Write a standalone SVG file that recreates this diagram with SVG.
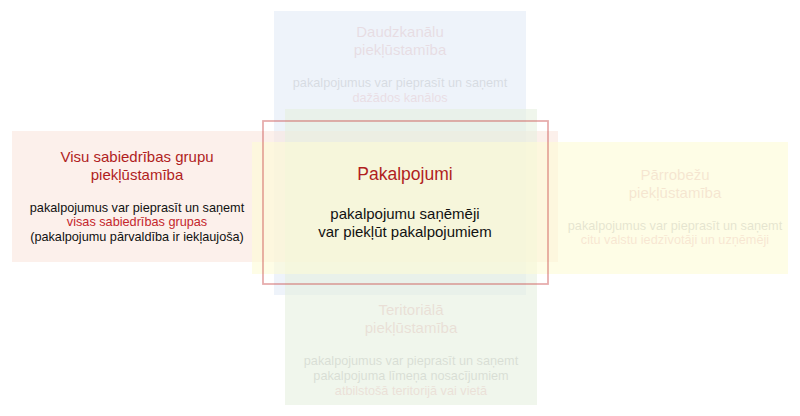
<svg xmlns="http://www.w3.org/2000/svg" width="800" height="416" viewBox="0 0 800 416">
<style>
text{font-family:"Liberation Sans",Arial,sans-serif;text-anchor:middle}
.box{fill-opacity:0.6}
.t{font-size:15px;fill:#b01e1e}
.b{font-size:12.7px;fill:#111}
.h{fill:#c4262b}
.ct{font-size:17.5px;fill:#b01e1e}
.cb{font-size:15px;fill:#111}
.fade{opacity:0.1}
</style>
<rect width="800" height="416" fill="#fff"/>
<g id="node-daudzkanalu">
<rect class="box" x="274" y="11" width="252" height="284" fill="#e3ebf7"/>
<g class="fade">
<text class="t" x="400" y="37">Daudzkanālu</text>
<text class="t" x="400" y="55">piekļūstamība</text>
<text class="b" x="400" y="87">pakalpojumus var pieprasīt un saņemt</text>
<text class="b h" x="400" y="102">dažādos kanālos</text>
</g>
</g>
<g id="node-visu-grupu">
<rect class="box" x="12" y="131" width="546" height="131" fill="#fae6de"/>
<text class="t" x="137" y="162">Visu sabiedrības grupu</text>
<text class="t" x="137" y="180">piekļūstamība</text>
<text class="b" x="137" y="211.5">pakalpojumus var pieprasīt un saņemt</text>
<text class="b h" x="137" y="226">visas sabiedrības grupas</text>
<text class="b" x="137" y="240.5">(pakalpojumu pārvaldība ir iekļaujoša)</text>
</g>
<g id="node-teritoriala">
<rect class="box" x="285" y="109" width="252" height="296" fill="#e6f0df"/>
<g class="fade">
<text class="t" x="411" y="315">Teritoriālā</text>
<text class="t" x="411" y="333">piekļūstamība</text>
<text class="b" x="411" y="365">pakalpojumus var pieprasīt un saņemt</text>
<text class="b" x="411" y="380">pakalpojuma līmeņa nosacījumiem</text>
<text class="b h" x="411" y="395">atbilstošā teritorijā vai vietā</text>
</g>
</g>
<g id="node-parrobezu">
<rect class="box" x="252" y="142" width="536" height="132" fill="#fdfcd5"/>
<g class="fade">
<text class="t" x="675" y="180">Pārrobežu</text>
<text class="t" x="675" y="198">piekļūstamība</text>
<text class="b" x="675" y="230">pakalpojumus var pieprasīt un saņemt</text>
<text class="b h" x="675" y="244">citu valstu iedzīvotāji un uzņēmēji</text>
</g>
</g>
<g id="node-pakalpojumi">
<rect x="263" y="121" width="285" height="163" fill="none" stroke="#c84a4a" stroke-opacity="0.45" stroke-width="1.8"/>
<text class="ct" x="405" y="180">Pakalpojumi</text>
<text class="cb" x="405" y="219">pakalpojumu saņēmēji</text>
<text class="cb" x="405" y="237">var piekļūt pakalpojumiem</text>
</g>
<g id="connectors"/>
</svg>
